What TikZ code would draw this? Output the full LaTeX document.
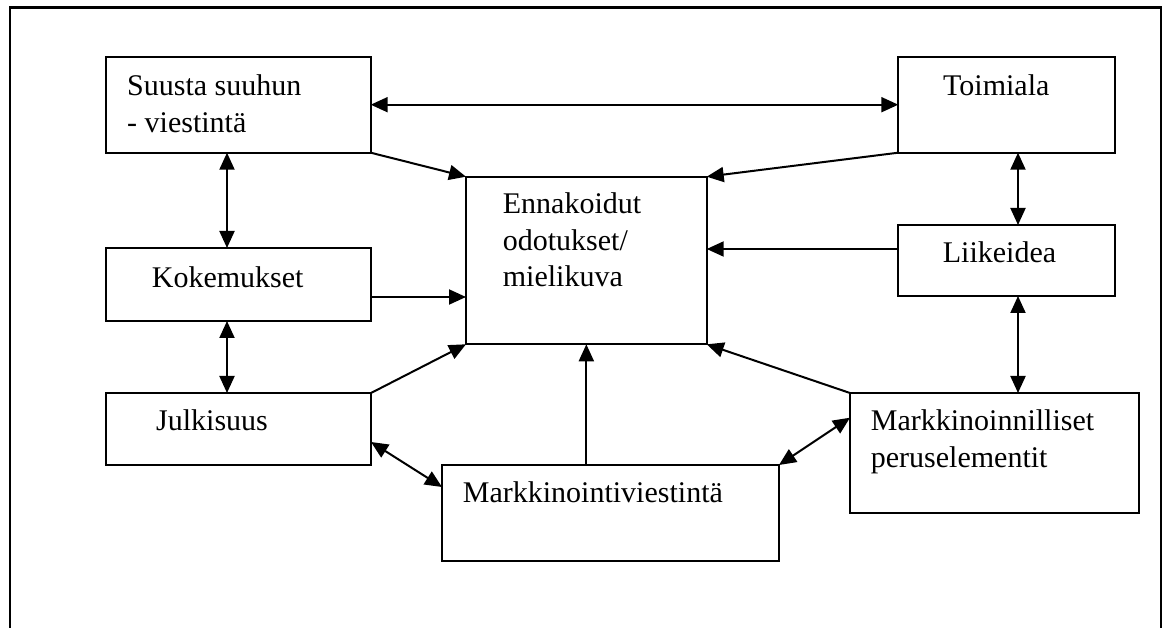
\documentclass[tikz,border=0pt]{standalone}
\usepackage{fontspec}
\setmainfont{Liberation Serif}
\usetikzlibrary{arrows.meta}
\newcommand{\mylines}[1]{\begin{tabular}[t]{@{}l@{}}#1\end{tabular}}
\tikzset{
  box/.style={draw, line width=2.2pt, inner sep=0pt, outer sep=0pt},
  lbl/.style={inner sep=0pt, anchor=base west, font=\fontsize{30pt}{36.5pt}\selectfont},
  tip/.style={},
  conn/.style={line width=2pt, -{Triangle[length=17pt,width=15pt]}},
  dconn/.style={line width=2pt, {Triangle[length=17pt,width=15pt]}-{Triangle[length=17pt,width=15pt]}},
  frame/.style={draw, line width=2.2pt}
}
\begin{document}
\begin{tikzpicture}[x=1pt,y=-1pt]
\useasboundingbox (0,0) rectangle (1168,628);
\clip (0,0) rectangle (1168,628);
\fill[white] (0,0) rectangle (1168,628);
\draw[frame] (10,640) -- (10,7.5) -- (1161,7.5) -- (1161,640);
% boxes
\node[box, minimum width=264.7pt, minimum height=96pt] (suusta) at (238.35,104.7) {};
\node[box, minimum width=216.7pt, minimum height=96pt] (toimiala) at (1006.65,104.7) {};
\node[box, minimum width=240.7pt, minimum height=167.6pt] (enn) at (586.35,260.5) {};
\node[box, minimum width=265pt, minimum height=73pt] (kok) at (238.5,284.5) {};
\node[box, minimum width=217pt, minimum height=71pt] (liike) at (1006.5,260.5) {};
\node[box, minimum width=265pt, minimum height=72pt] (julk) at (238.5,429) {};
\node[box, minimum width=337pt, minimum height=95.7pt] (markv) at (610.5,512.85) {};
\node[box, minimum width=289pt, minimum height=120pt] (markk) at (994.5,453) {};
% texts
\node[lbl] (suustaT) at (127,95.7) {\mylines{Suusta suuhun\\- viestintä}};
\node[lbl] (toimialaT) at (943,95.7) {Toimiala};
\node[lbl] (ennT) at (502.7,214) {\mylines{Ennakoidut\\odotukset/\\mielikuva}};
\node[lbl] (kokT) at (151.7,287.3) {Kokemukset};
\node[lbl] (liikeT) at (942.7,263) {Liikeidea};
\node[lbl] (julkT) at (156,430) {Julkisuus};
\node[lbl] (markkT) at (870.7,430.7) {\mylines{Markkinoinnilliset\\peruselementit}};
\node[lbl] (markvT) at (462.7,502.7) {Markkinointiviestintä};
% helper coordinates
\coordinate (cL) at (227,0);
\coordinate (cR) at (1018,0);
\coordinate (ky) at (0,297);
\coordinate (ly) at (0,249);
\coordinate (jy) at (0,442);
\coordinate (my) at (0,487);
\coordinate (mky) at (0,417.7);
% connectors
\draw[dconn] (suusta.east) -- (toimiala.west);
\draw[conn] (suusta.south east) -- (enn.north west);
\draw[conn] (toimiala.south west) -- (enn.north east);
\draw[dconn] (suusta.south -| cL) -- (kok.north -| cL);
\draw[conn] (kok.east |- ky) -- (enn.west |- ky);
\draw[conn] (liike.west |- ly) -- (enn.east |- ly);
\draw[dconn] (toimiala.south -| cR) -- (liike.north -| cR);
\draw[dconn] (kok.south -| cL) -- (julk.north -| cL);
\draw[conn] (julk.north east) -- (enn.south west);
\draw[dconn] (liike.south -| cR) -- (markk.north -| cR);
\draw[conn] (markk.north west) -- (enn.south east);
\draw[conn] (markv.north -| enn.south) -- (enn.south);
\draw[dconn] (julk.east |- jy) -- (markv.west |- my);
\draw[dconn] (markv.north east) -- (markk.west |- mky);
\end{tikzpicture}
\end{document}
